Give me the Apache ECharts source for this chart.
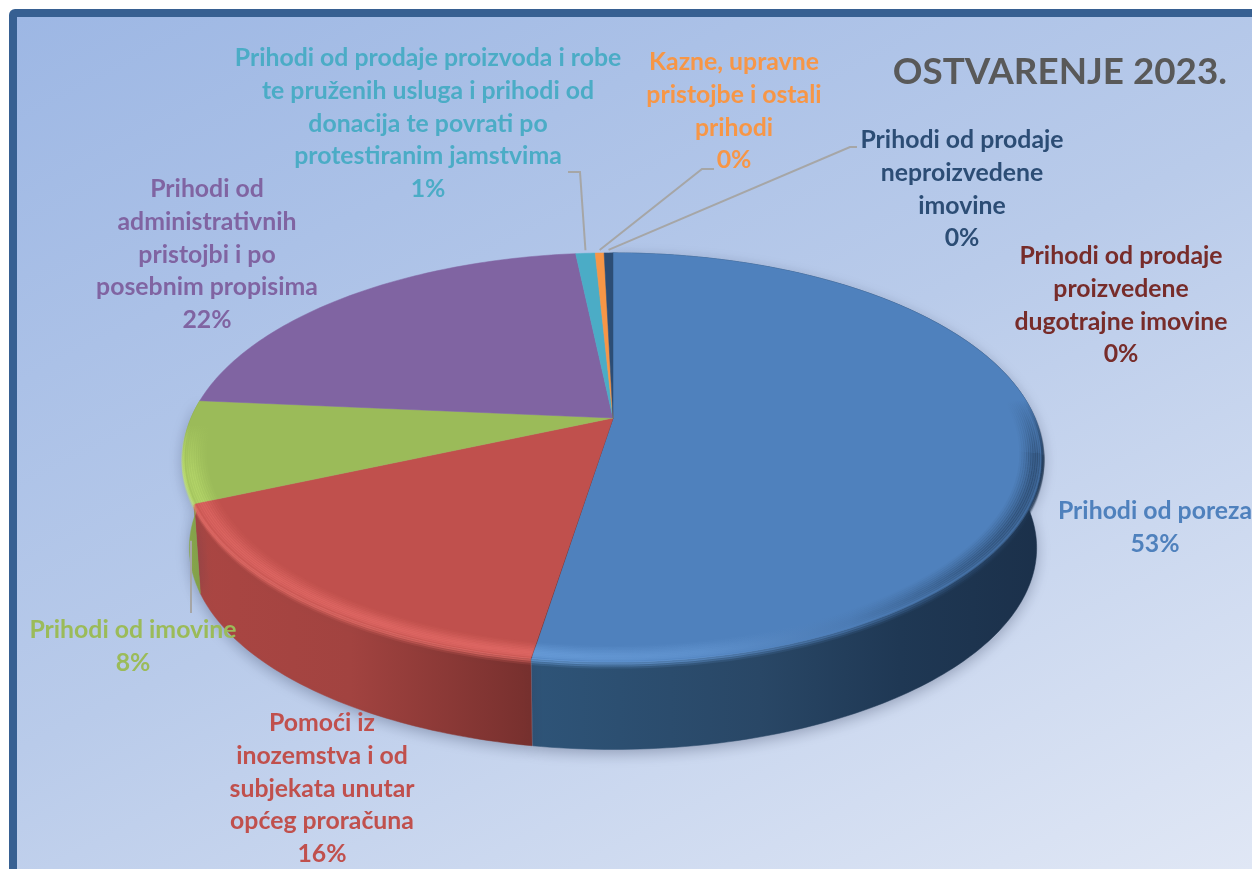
<!DOCTYPE html>
<html>
<head>
<meta charset="utf-8">
<style>
  html, body { margin: 0; padding: 0; background: #fff; }
  #chart { width: 1252px; height: 869px; }
</style>
<script src="https://cdn.jsdelivr.net/npm/echarts@6/dist/echarts.min.js"></script>
</head>
<body>
<div id="chart"></div>
<script>
// clockwise from 12 o'clock
const categories = [
  'Prihodi od poreza',
  'Prihodi od prodaje\nproizvedene\ndugotrajne imovine',
  'Pomoći iz\ninozemstva i od\nsubjekata unutar\nopćeg proračuna',
  'Prihodi od imovine',
  'Prihodi od\nadministrativnih\npristojbi i po\nposebnim propisima',
  'Prihodi od prodaje proizvoda i robe\nte pruženih usluga i prihodi od\ndonacija te povrati po\nprotestiranim jamstvima',
  'Kazne, upravne\npristojbe i ostali\nprihodi',
  'Prihodi od prodaje\nneproizvedene\nimovine'
];
const values = [52.5, 0.02, 15.9, 8.0, 21.9, 0.88, 0.4, 0.4];
const colors = ['#4f81bd', '#772c2a', '#c0504d', '#9bbb59', '#8064a2', '#4bacc6', '#f79646', '#2c4d75'];
const title = 'OSTVARENJE 2023.';

// label centre x, top y of the first line
const labelPos = [
  [1155, 495], [1121, 240], [322, 707], [133, 614],
  [207, 173], [428, 42], [734, 46], [962, 124]
];

// pie perspective, fitted to the picture
const cx = 613, cy = 418;
const a = 422, b = 197, k = 0.193;
const depth = 91, bottomScale = 0.985;

const total = values.reduce((s, v) => s + v, 0);
let acc = 0;
const starts = values.map(v => {
  const s = acc;
  acc += v;
  return s / total * 360;
});
const ends = values.map((v, i) => starts[i] + v / total * 360);

function project(deg, f, dy) {
  const t = deg * Math.PI / 180;
  const u = Math.sin(t) * f, v = Math.cos(t) * f;
  const w = 1 + k * v;
  return [cx + a * u / w, cy - b * v / w + (dy || 0)];
}
function projectBottom(deg) {
  const p = project(deg, 1);
  return [cx + (p[0] - cx) * bottomScale, cy + depth + (p[1] - cy) * bottomScale];
}
function arc(d0, d1, fn) {
  const pts = [];
  const n = Math.max(2, Math.ceil(Math.abs(d1 - d0)));
  for (let i = 0; i <= n; i++) pts.push(fn(d0 + (d1 - d0) * i / n));
  return pts;
}
function gradX(stops) {
  return { type: 'linear', global: true, x: 180, y: 0, x2: 1045, y2: 0,
    colorStops: stops.map(s => ({ offset: (s[0] - 180) / 865, color: s[1] })) };
}
function gradY(y0, y1, c0, c1) {
  return { type: 'linear', global: true, x: 0, y: y0, x2: 0, y2: y1,
    colorStops: [{ offset: 0, color: c0 }, { offset: 1, color: c1 }] };
}

const wallFill = {
  0: gradX([[180, '#2e5478'], [530, '#2e5478'], [760, '#294766'], [900, '#1f3854'], [1045, '#1b304a']]),
  2: gradX([[180, '#ab4643'], [350, '#a24340'], [530, '#77302e'], [1045, '#77302e']]),
  3: gradX([[180, '#8cab4e'], [210, '#7f9e45'], [1045, '#7f9e45']])
};
const blueBand = gradX([[180, '#6ea3e0'], [530, '#6ea3e0'], [700, '#6396d2'], [850, '#4a78b0'], [960, '#2c4c72'], [1045, '#1b304a']]);
// [slice, from deg, to deg, stroke]
const bands = [
  [0, 72, 100, gradY(400, 470, 'rgba(27,48,74,0)', '#1b304a')],
  [0, 100, ends[0], blueBand],
  [2, starts[2], ends[2], '#e96f6b'],
  [3, starts[3], 276, gradY(425, 475, 'rgba(191,225,112,0)', '#bfe170')]
];
const bandProfile = [
  [0.95, 0.06], [0.955, 0.12], [0.96, 0.18], [0.965, 0.25], [0.97, 0.32],
  [0.975, 0.4], [0.98, 0.45], [0.985, 0.45], [0.99, 0.4], [0.995, 0.3]
];
const blendProfile = [[1, 0.6], [3, 0.35], [5, 0.15]];

function renderWall(params, api) {
  const i = params.dataIndex;
  if (!wallFill[i]) return { type: 'group', children: [] };
  const top = arc(starts[i], ends[i], d => project(d, 1));
  const bottom = arc(ends[i], starts[i], projectBottom);
  return {
    type: 'polygon',
    shape: { points: top.concat(bottom) },
    style: { fill: wallFill[i], stroke: wallFill[i], lineWidth: 0.5,
      shadowBlur: 14, shadowColor: 'rgba(50,60,90,0.35)', shadowOffsetY: 4 }
  };
}

function renderTop(params, api) {
  const i = params.dataIndex;
  const pts = [[cx, cy]].concat(arc(starts[i], ends[i], d => project(d, 1)));
  return {
    type: 'polygon',
    shape: { points: pts },
    style: { fill: colors[i], stroke: colors[i], lineWidth: 0.5 }
  };
}

function renderBand(params, api) {
  const band = bands[params.dataIndex];
  const children = [];
  bandProfile.forEach(p => {
    children.push({
      type: 'polyline',
      shape: { points: arc(band[1], band[2], d => project(d, p[0])) },
      style: { stroke: band[3], lineWidth: 3, opacity: p[1], fill: null }
    });
  });
  blendProfile.forEach(p => {
    children.push({
      type: 'polyline',
      shape: { points: arc(band[1], band[2], d => project(d, 1, p[0])) },
      style: { stroke: band[3], lineWidth: 3, opacity: p[1], fill: null }
    });
  });
  return { type: 'group', children };
}

function leaderPoints() {
  const mid = i => (starts[i] + ends[i]) / 2;
  const cyan = project(mid(5), 1, -3);
  const orange = project(mid(6), 1, -3);
  const navy = project(mid(7), 1, -3);
  const green = project(starts[3], 1, 37);
  return [
    [cyan, [580, 172], [568, 172]],
    [orange, [702, 169], [714, 169]],
    [navy, [850, 147], [857, 147]],
    [[191, green[1]], [191, 613]]
  ];
}

function renderLabel(params, api) {
  const i = params.dataIndex;
  const pct = Math.round(api.value(0) / total * 100);
  return {
    type: 'text',
    style: {
      text: categories[i] + '\n' + pct + '%',
      x: labelPos[i][0], y: labelPos[i][1],
      fill: colors[i], font: 'bold 24.8px Lato', lineHeight: 32.7,
      align: 'center', verticalAlign: 'top'
    }
  };
}

const chart = echarts.init(document.getElementById('chart'), null, { renderer: 'canvas' });

chart.setOption({
  animation: false,
  graphic: [
    { type: 'rect', z: -10, shape: { x: 9, y: 9, width: 1300, height: 900, r: 6 }, style: { fill: '#376092' } },
    { type: 'rect', z: -9, shape: { x: 17, y: 17, width: 1300, height: 900 },
      style: { fill: { type: 'linear', global: true, x: 17, y: 17, x2: 605, y2: 1193, colorStops: [
        { offset: 0, color: '#9db7e4' }, { offset: 0.5, color: '#b9cbea' }, { offset: 1, color: '#e0e7f5' }
      ] } } },
    { type: 'text', z: 50, style: { text: title, x: 1227, y: 72, align: 'right', verticalAlign: 'middle',
      fill: '#595959', font: 'bold 36.8px Lato' } }
  ],
  series: [
    { type: 'custom', coordinateSystem: 'none', silent: true, clip: false, renderItem: renderWall, data: values },
    { type: 'custom', coordinateSystem: 'none', silent: true, clip: false, renderItem: renderTop, data: values },
    { type: 'custom', coordinateSystem: 'none', silent: true, clip: false, renderItem: renderBand, data: bands.map((b, i) => i) },
    { type: 'custom', coordinateSystem: 'none', silent: true, clip: false,
      renderItem: (params) => ({
        type: 'polyline',
        shape: { points: leaderPoints()[params.dataIndex] },
        style: { stroke: '#a6a6a6', lineWidth: 2, fill: null }
      }),
      data: [0, 1, 2, 3] },
    { type: 'custom', coordinateSystem: 'none', silent: true, clip: false, renderItem: renderLabel, data: values }
  ]
});
</script>
</body>
</html>
